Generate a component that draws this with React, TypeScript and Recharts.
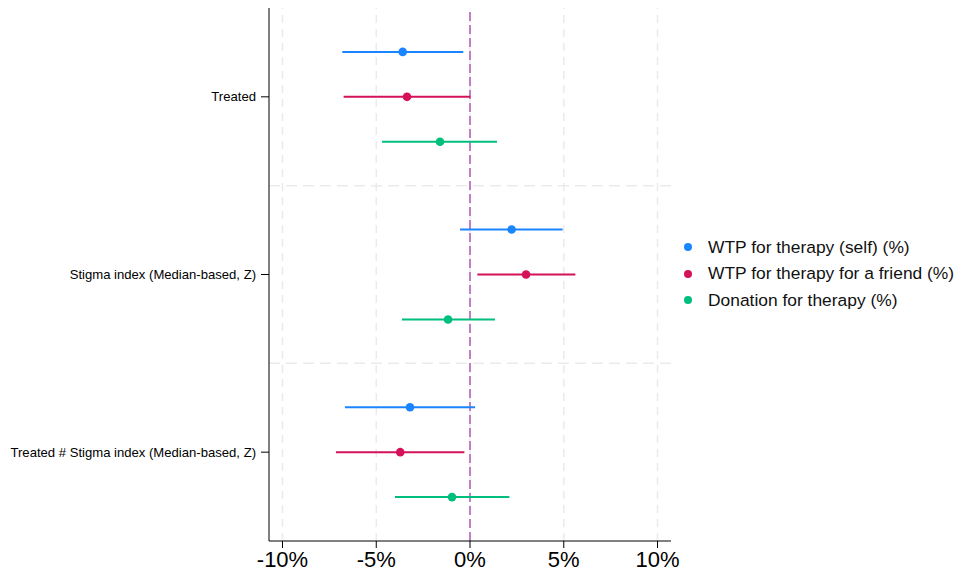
import React from "react";
import {
  ScatterChart,
  Scatter,
  XAxis,
  YAxis,
  ReferenceLine,
  ErrorBar,
} from "recharts";

document.body.style.margin = "0";

const terms = ["Treated", "Stigma index (Median-based, Z)", "Treated # Stigma index (Median-based, Z)"];
const xTicks = [-10, -5, 0, 5, 10];
const rowBreaks = [1, 2];

// point estimates and 95% CI bounds (in %), one entry per term
const selfEst = [-3.59, 2.22, -3.2];
const selfLo = [-6.81, -0.53, -6.67];
const selfHi = [-0.36, 4.94, 0.27];

const friendEst = [-3.36, 2.99, -3.72];
const friendLo = [-6.74, 0.39, -7.15];
const friendHi = [0.02, 5.62, -0.3];

const donEst = [-1.6, -1.17, -0.96];
const donLo = [-4.69, -3.63, -4.0];
const donHi = [1.44, 1.33, 2.1];

const SERIES = [
  { name: "WTP for therapy (self) (%)", color: "#1a85ff", est: selfEst, lo: selfLo, hi: selfHi, offset: -0.253 },
  { name: "WTP for therapy for a friend (%)", color: "#d41159", est: friendEst, lo: friendLo, hi: friendHi, offset: 0 },
  { name: "Donation for therapy (%)", color: "#00bf7d", est: donEst, lo: donLo, hi: donHi, offset: 0.253 },
];

const FONT = "Helvetica, Arial, 'Liberation Sans', sans-serif";
const GRID = "#ebebeb";

const Dot = (props: any) => (
  <circle cx={props.cx} cy={props.cy} r={4.3} fill={props.fill} />
);

const YTick = (props: any) => {
  const { x, y, payload } = props;
  return (
    <text x={x} y={y} dy={4.5} textAnchor="end" fontSize={13.1} fill="#000" fontFamily={FONT}>
      {terms[Math.floor(payload.value)]}
    </text>
  );
};

const LegendBox = () => (
  <div
    style={{
      position: "absolute",
      left: 684,
      top: 234,
      fontFamily: FONT,
      fontSize: 17.4,
      color: "#111",
    }}
  >
    {SERIES.map((s) => (
      <div key={s.name} style={{ display: "flex", alignItems: "center", height: 26.5, whiteSpace: "nowrap" }}>
        <span
          style={{
            display: "inline-block",
            width: 8,
            height: 8,
            borderRadius: 4,
            background: s.color,
            marginRight: 16,
          }}
        />
        {s.name}
      </div>
    ))}
  </div>
);

export default function App() {
  const series = SERIES.map((s) => ({
    ...s,
    data: terms.map((_, i) => ({
      x: s.est[i],
      y: i + 0.5 + s.offset,
      err: [s.est[i] - s.lo[i], s.hi[i] - s.est[i]],
    })),
  }));

  return (
    <div style={{ position: "relative", width: 958, height: 579 }}>
      <ScatterChart
        width={958}
        height={579}
        margin={{ top: 8, right: 287, bottom: 8, left: 0 }}
        style={{ fontFamily: FONT }}
      >
        {xTicks.map((t) => (
          <ReferenceLine key={`gx${t}`} x={t} stroke={GRID} strokeWidth={1.5} strokeDasharray="8 6" />
        ))}
        {rowBreaks.map((b) => (
          <ReferenceLine key={`gy${b}`} y={b} stroke={GRID} strokeWidth={1.5} strokeDasharray="11 6" />
        ))}
        <XAxis
          type="number"
          dataKey="x"
          domain={[-10.72, 10.72]}
          ticks={xTicks}
          tickFormatter={(v) => `${v}%`}
          tick={{ fontSize: 22, fill: "#000" }}
          stroke="#000"
          height={30}
          tickSize={7}
          tickMargin={3}
          allowDataOverflow
        />
        <YAxis
          type="number"
          dataKey="y"
          domain={[0, 3]}
          reversed
          ticks={[0.5, 1.5, 2.5]}
          tick={<YTick />}
          stroke="#000"
          width={269}
          tickSize={8}
          tickMargin={5}
        />
        <ReferenceLine x={0} stroke="#c27fc6" strokeWidth={2} strokeDasharray="9 4" />
        {series.map((s) => (
          <Scatter
            key={s.name}
            name={s.name}
            data={s.data}
            fill={s.color}
            shape={<Dot />}
            isAnimationActive={false}
          >
            <ErrorBar dataKey="err" direction="x" width={0} stroke={s.color} strokeWidth={2} />
          </Scatter>
        ))}
      </ScatterChart>
      <LegendBox />
    </div>
  );
}
